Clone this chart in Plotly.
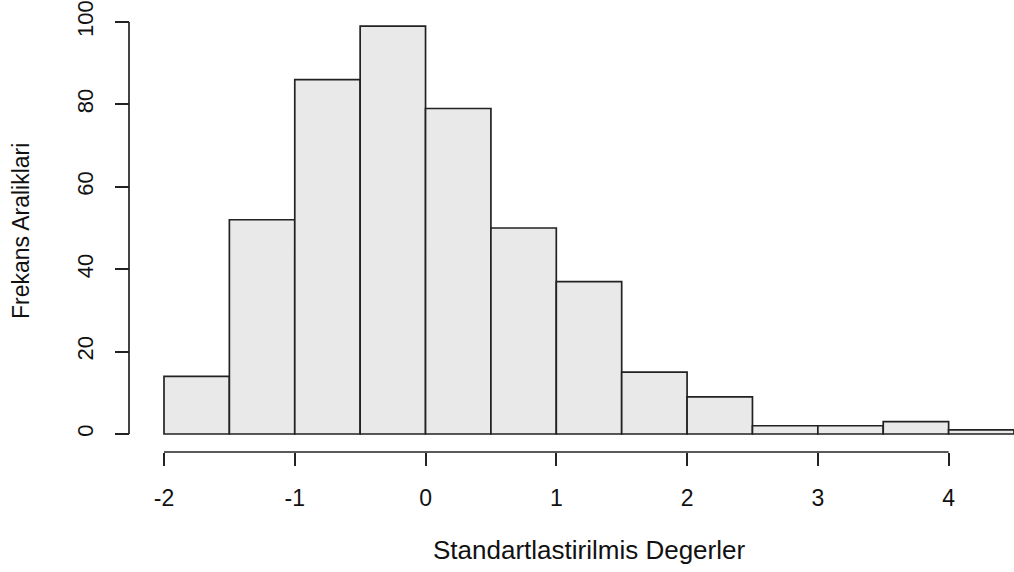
import plotly.graph_objects as go

# Histogram bins (left edges, width 0.5) and counts
bin_edges = [-2.0, -1.5, -1.0, -0.5, 0.0, 0.5, 1.0, 1.5, 2.0, 2.5, 3.0, 3.5, 4.0, 4.5]
counts = [14, 52, 86, 99, 79, 50, 37, 15, 9, 2, 2, 3, 1]
x_ticks = [-2, -1, 0, 1, 2, 3, 4]
y_ticks = [0, 20, 40, 60, 80, 100]

centers = [(bin_edges[i] + bin_edges[i + 1]) / 2 for i in range(len(counts))]
widths = [bin_edges[i + 1] - bin_edges[i] for i in range(len(counts))]

W, H = 1014, 572
FONT = "Liberation Sans, Arial, sans-serif"

fig = go.Figure()
fig.add_trace(go.Bar(
    x=centers, y=counts, width=widths,
    marker=dict(color="#E9E9E9", line=dict(color="#222222", width=1.7)),
    cliponaxis=False,
    hoverinfo="x+y",
))

# pixel geometry
x_px_per_unit = (949 - 164) / 6.0
x_left = -2.05
x_dom0 = (164 - (-2 - x_left) * x_px_per_unit) / W
y_px_per_unit = (434 - 22) / 100.0
y_lo, y_hi = -1, 101
y_dom0 = (H - (434 + 1 * y_px_per_unit)) / H
y_dom1 = (H - (22 - 1 * y_px_per_unit)) / H
xaxis_pos = (H - 452) / H
yaxis_pos = 129 / W

fig.update_layout(
    template="none",
    width=W, height=H,
    margin=dict(l=0, r=0, t=0, b=0, pad=0),
    paper_bgcolor="white", plot_bgcolor="white",
    showlegend=False,
    font=dict(family=FONT, size=22, color="#111111"),
    xaxis=dict(
        domain=[x_dom0, 1.0], range=[x_left, 4.5],
        anchor="free", position=xaxis_pos, automargin=False,
        tickmode="array", tickvals=x_ticks, ticktext=[str(v) for v in x_ticks],
        ticks="outside", ticklen=13, tickwidth=1.7, tickcolor="#222222",
        showgrid=False, zeroline=False, showline=False,
        ticklabelstandoff=12,
        tickfont=dict(size=23),
    ),
    yaxis=dict(
        domain=[y_dom0, y_dom1], range=[y_lo, y_hi],
        anchor="free", position=yaxis_pos, automargin=False,
        tickmode="array", tickvals=y_ticks, ticktext=[str(v) for v in y_ticks],
        ticks="outside", ticklen=14, tickwidth=1.7, tickcolor="#222222",
        tickangle=-90,
        showgrid=False, zeroline=False, showline=False,
        ticklabelstandoff=13,
        tickfont=dict(size=22),
    ),
    shapes=[
        dict(type="line", xref="x", yref="paper", x0=x_ticks[0], x1=x_ticks[-1],
             y0=xaxis_pos, y1=xaxis_pos, line=dict(color="#222222", width=1.7)),
        dict(type="line", xref="paper", yref="y", x0=yaxis_pos, x1=yaxis_pos,
             y0=y_ticks[0], y1=y_ticks[-1], line=dict(color="#222222", width=1.7)),
    ],
    annotations=[
        dict(text="Standartlastirilmis Degerler", xref="paper", yref="paper",
             x=589 / W, y=(H - 550) / H, showarrow=False,
             xanchor="center", yanchor="middle", font=dict(size=26)),
        dict(text="Frekans Araliklari", xref="paper", yref="paper",
             x=21 / W, y=(H - 231) / H, showarrow=False, textangle=-90,
             xanchor="center", yanchor="middle", font=dict(size=23)),
    ],
)

fig.write_html(
    "out.html",
    config={"displayModeBar": False},
    post_script="document.body.style.margin='0';document.body.style.overflow='hidden';",
)
